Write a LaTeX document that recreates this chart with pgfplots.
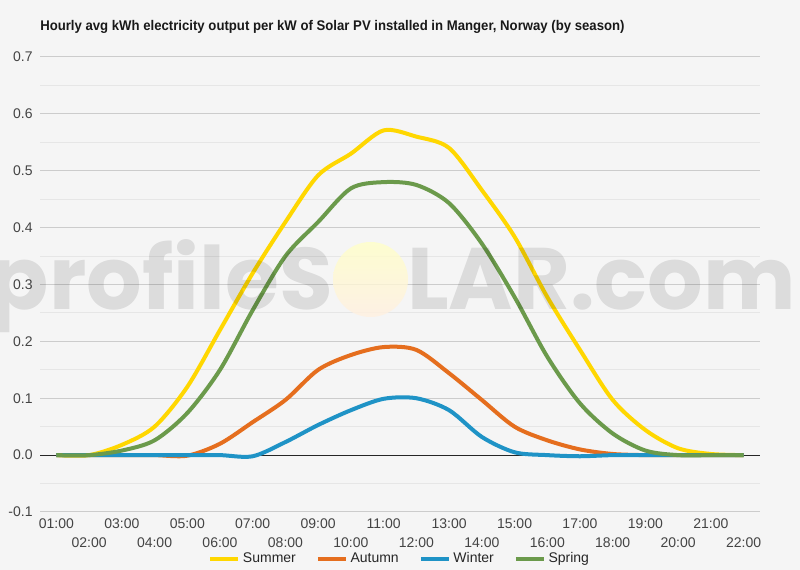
\documentclass[border=0pt]{standalone}
\usepackage{pgfplots}
\pgfplotsset{compat=1.18}
\usepackage{pgfplotstable}
\usepackage{fontspec}
\setmainfont{Liberation Sans}
\newfontfamily\wmfont{Poppins}

\definecolor{bgc}{HTML}{F5F5F5}
\definecolor{gridc}{HTML}{CCCCCC}
\definecolor{minorc}{HTML}{E6E6E6}
\definecolor{ticklab}{HTML}{444444}
\definecolor{summerc}{HTML}{FFD700}
\definecolor{autumnc}{HTML}{E56E1E}
\definecolor{winterc}{HTML}{1F93C6}
\definecolor{springc}{HTML}{6B9A4B}

% hourly average kWh per kW installed
\pgfplotstableread{
hour summer autumn winter spring
1  0.000  0.000  0.000  0.000
2  0.000  0.000  0.000  0.000
3  0.018  0.000  0.000  0.008
4  0.050  0.000  0.000  0.026
5  0.120 -0.001  0.000  0.074
6  0.220  0.020  0.000  0.150
7  0.320  0.058 -0.002  0.255
8  0.410  0.097  0.023  0.350
9  0.492  0.150  0.053  0.410
10 0.530  0.176  0.079  0.469
11 0.571  0.190  0.099  0.480
12 0.560  0.185  0.100  0.475
13 0.540  0.144  0.079  0.443
14 0.466  0.097  0.032  0.372
15 0.384  0.050  0.005  0.278
16 0.278  0.026  0.000  0.173
17 0.185  0.010 -0.002  0.091
18 0.097  0.002  0.000  0.038
19 0.044  0.000  0.000  0.008
20 0.012  0.000  0.000  0.000
21 0.002  0.000  0.000  0.000
22 0.000  0.000  0.000  0.000
}\solar

\begin{document}
\begin{tikzpicture}
\fill[bgc] (0,0) rectangle (600pt,427.5pt);
\useasboundingbox (0,0) rectangle (600pt,427.5pt);
\node[anchor=west, inner sep=0pt, font=\bfseries\fontsize{10.5}{12}\selectfont, text=black!90]
  at (30pt,407.25pt) {\scalebox{0.94}[1]{Hourly avg kWh electricity output per kW of Solar PV installed in Manger, Norway (by season)}};
\begin{axis}[
  at={(30pt,43.5pt)}, anchor=south west,
  scale only axis, width=540pt, height=341.25pt,
  xmin=0.5, xmax=22.5, ymin=-0.1, ymax=0.7,
  axis line style={draw=none},
  major tick length=0pt, minor tick length=0pt,
  xtick={1,3,5,7,9,11,13,15,17,19,21},
  xticklabels={01:00,03:00,05:00,07:00,09:00,11:00,13:00,15:00,17:00,19:00,21:00},
  xticklabel style={yshift=-1.5pt},
  extra x ticks={2,4,6,8,10,12,14,16,18,20,22},
  extra x tick labels={02:00,04:00,06:00,08:00,10:00,12:00,14:00,16:00,18:00,20:00,22:00},
  extra x tick style={xticklabel style={yshift=-14.25pt}},
  ytick={-0.1,0,0.1,0.2,0.3,0.4,0.5,0.6,0.7},
  minor y tick num=1,
  ymajorgrids, yminorgrids,
  major grid style={gridc, line width=0.75pt},
  minor grid style={minorc, line width=0.75pt},
  yticklabel style={xshift=-2pt, /pgf/number format/.cd, fixed, fixed zerofill, precision=1},
  /pgf/number format/assume math mode=true,
  tick label style={font=\fontsize{10.5}{12}\selectfont, text=ticklab},
  legend style={at={(0.5,-0.103)}, anchor=center, draw=none, fill=none,
    legend columns=4, font=\fontsize{10.5}{12}\selectfont, text=black!85,
    /tikz/every even column/.append style={column sep=13pt}},
  legend image code/.code={\draw[line width=3pt] (0pt,0pt) -- (21pt,0pt);},
]
\draw[black!85, line width=0.75pt] (axis cs:0.5,0) -- (axis cs:22.5,0);
\addplot[summerc, line width=3pt, smooth, tension=0.5] table[x=hour, y=summer] {\solar};
\addlegendentry{Summer}
\addplot[autumnc, line width=3pt, smooth, tension=0.5] table[x=hour, y=autumn] {\solar};
\addlegendentry{Autumn}
\addplot[winterc, line width=3pt, smooth, tension=0.5] table[x=hour, y=winter] {\solar};
\addlegendentry{Winter}
\addplot[springc, line width=3pt, smooth, tension=0.5] table[x=hour, y=spring] {\solar};
\addlegendentry{Spring}
\end{axis}
\begin{scope}[x=0.75pt, y=0.75pt]
\node[anchor=base east, inner sep=0pt, text=black, text opacity=0.1,
  font=\wmfont\bfseries\fontsize{65.5}{66}\selectfont] at (333,260) {profileS};
\shade[top color=yellow!22, bottom color=orange!12, opacity=0.8] (370.5,290.5) circle (37.5);
\node[anchor=base west, inner sep=0pt, text=black, text opacity=0.1,
  font=\wmfont\bfseries\fontsize{65.5}{66}\selectfont] at (407,260) {LAR.com};
\end{scope}
\end{tikzpicture}
\end{document}
